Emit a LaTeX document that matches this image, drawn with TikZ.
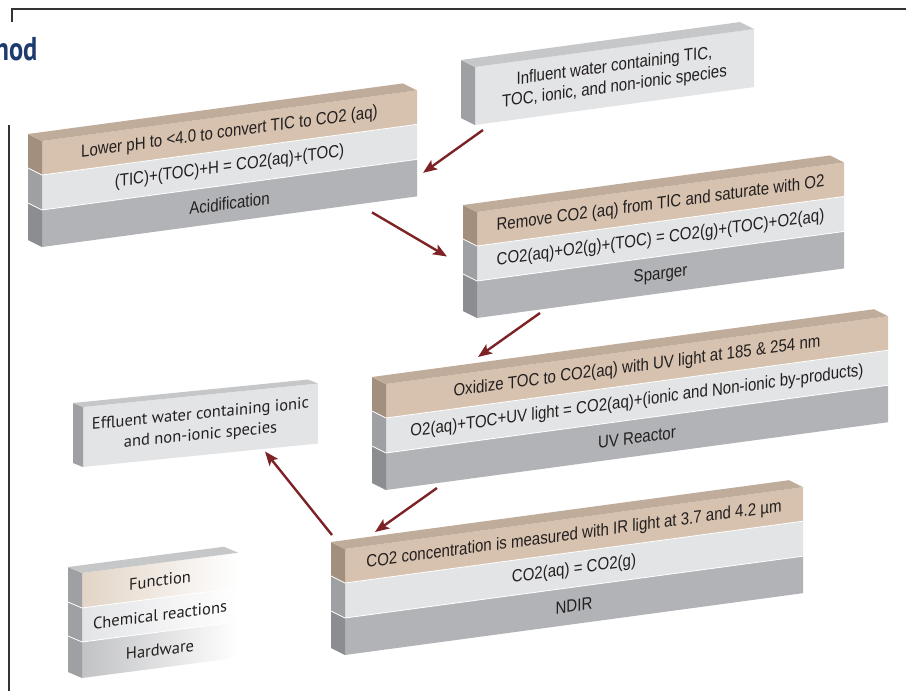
\documentclass[tikz,border=0pt]{standalone}
\usepackage{fontspec}
\setmainfont{Liberation Sans}[FakeStretch=0.86]
\newfontfamily\myriad{PT Sans}
\newfontfamily\titlefont{PT Sans}[FakeStretch=0.8]
\usetikzlibrary{arrows.meta}
\definecolor{tanfront}{RGB}{214,194,174}
\definecolor{tanside}{RGB}{163,143,125}
\definecolor{tantop}{RGB}{192,172,154}
\definecolor{lightfront}{RGB}{227,228,230}
\definecolor{lightside}{RGB}{158,160,163}
\definecolor{lighttop}{RGB}{198,199,201}
\definecolor{greyfront}{RGB}{178,179,182}
\definecolor{greyside}{RGB}{140,141,144}
\definecolor{arrowred}{RGB}{125,35,38}
\definecolor{navy}{RGB}{30,58,110}
\definecolor{inkgrey}{RGB}{35,31,32}
\tikzstyle{layer} = [rectangle, inner sep=0pt, outer sep=0pt, text centered, align=center, text=inkgrey, font=\fontsize{17.5}{20.5}\selectfont]
\tikzstyle{fnlayer} = [layer, minimum height=34pt, fill=tanfront]
\tikzstyle{rxlayer} = [layer, minimum height=35pt, fill=lightfront]
\tikzstyle{hwlayer} = [layer, minimum height=37pt, fill=greyfront]
\tikzstyle{gap} = [draw=white, line width=0.8pt]
\tikzstyle{arrow} = [line width=2.4pt, draw=arrowred, -{Stealth[length=14pt,width=11pt,inset=3pt]}]
\tikzstyle{frame} = [draw=black!80, line width=1.8pt]
\newcommand{\slab}[7]{%
\begin{scope}[shift={(#2,-#3)},yslant=0.135,transform shape]
\node (#1hw) [hwlayer,minimum width=#4pt,anchor=south west] at (0,0) {#7};
\node (#1rx) [rxlayer,minimum width=#4pt,anchor=south west] at (0,37) {#6};
\node (#1fn) [fnlayer,minimum width=#4pt,anchor=south west] at (0,72) {#5};
\end{scope}
\fill[greyside] (#1hw.south west) -- (#1hw.north west) -- ([shift={(-14,7)}]#1hw.north west) -- ([shift={(-14,7)}]#1hw.south west) -- cycle;
\fill[lightside] (#1rx.south west) -- (#1rx.north west) -- ([shift={(-14,7)}]#1rx.north west) -- ([shift={(-14,7)}]#1rx.south west) -- cycle;
\fill[tanside] (#1fn.south west) -- (#1fn.north west) -- ([shift={(-14,7)}]#1fn.north west) -- ([shift={(-14,7)}]#1fn.south west) -- cycle;
\fill[tantop] (#1fn.north west) -- (#1fn.north east) -- ([shift={(-14,7)}]#1fn.north east) -- ([shift={(-14,7)}]#1fn.north west) -- cycle;
\draw[gap] ([shift={(-14,7)}]#1rx.north west) -- (#1rx.north west) -- (#1rx.north east);
\draw[gap] ([shift={(-14,7)}]#1hw.north west) -- (#1hw.north west) -- (#1hw.north east);
}
\begin{document}
\begin{tikzpicture}[x=1pt,y=1pt]
\useasboundingbox (0,0) rectangle (906,-691);
\draw[frame] (12,-22) -- (12,-9) -- (906,-9);
\draw[frame] (9,-125) -- (9,-691);
\node (title) [anchor=base east, font=\titlefont\bfseries\fontsize{33}{36}\selectfont, text=navy] at (41,-60) {hod};

\slab{acid}{42}{247}{375}{Lower pH to <4.0 to convert TIC to CO2 (aq)}{(TIC)+(TOC)+H = CO2(aq)+(TOC)}{Acidification}
\slab{sparg}{477}{318}{367}{Remove CO2 (aq) from TIC and saturate with O2}{CO2(aq)+O2(g)+(TOC) = CO2(g)+(TOC)+O2(aq)}{Sparger}
\slab{uv}{386}{490}{502}{Oxidize TOC to CO2(aq) with UV light at 185 \& 254 nm}{O2(aq)+TOC+UV light = CO2(aq)+(ionic and Non-ionic by-products)}{UV Reactor}
\slab{ndir}{345}{655}{458}{CO2 concentration is measured with IR light at 3.7 and 4.2 µm}{CO2(aq) = CO2(g)}{NDIR}

\begin{scope}[shift={(475,-125)},yslant=0.136,transform shape]
\node (inf) [layer, fill=lightfront, minimum width=279pt, minimum height=58pt, anchor=south west] at (0,0) {Influent water containing TIC,\\TOC, ionic, and non-ionic species};
\end{scope}
\fill[lightside] (inf.south west) -- (inf.north west) -- ([shift={(-14,7)}]inf.north west) -- ([shift={(-14,7)}]inf.south west) -- cycle;
\fill[lighttop] (inf.north west) -- (inf.north east) -- ([shift={(-14,7)}]inf.north east) -- ([shift={(-14,7)}]inf.north west) -- cycle;

\begin{scope}[shift={(83,-467)},yslant=0.1,transform shape]
\node (eff) [layer, fill=lightfront, minimum width=235pt, minimum height=60pt, anchor=south west, font=\myriad\fontsize{16.5}{21}\selectfont] at (0,0) {Effluent water containing ionic\\and non-ionic species};
\end{scope}
\fill[lightside] (eff.south west) -- (eff.north west) -- ([shift={(-10,4)}]eff.north west) -- ([shift={(-10,4)}]eff.south west) -- cycle;
\fill[lighttop] (eff.north west) -- (eff.north east) -- ([shift={(-10,4)}]eff.north east) -- ([shift={(-10,4)}]eff.north west) -- cycle;

\begin{scope}[shift={(82,-678)},yslant=0.13,transform shape,every node/.style={layer, font=\myriad\fontsize{16.5}{19}\selectfont, minimum width=156pt, anchor=south west}]
\node (leghw) [minimum height=36pt, left color=greyfront!80, right color=white] at (0,0) {Hardware};
\node (legrx) [minimum height=34pt, left color=lightfront, right color=white] at (0,36) {Chemical reactions};
\node (legfn) [minimum height=35pt, left color=tanfront!70, right color=white] at (0,70) {Function};
\end{scope}
\fill[lightside] (leghw.south west) -- (legfn.north west) -- ([shift={(-14,6)}]legfn.north west) -- ([shift={(-14,6)}]leghw.south west) -- cycle;
\fill[lighttop] (legfn.north west) -- (legfn.north east) -- ([shift={(-14,6)}]legfn.north east) -- ([shift={(-14,6)}]legfn.north west) -- cycle;
\draw[gap] ([shift={(-14,6)}]legrx.north west) -- (legrx.north west) -- (legrx.north east);
\draw[gap] ([shift={(-14,6)}]leghw.north west) -- (leghw.north west) -- (leghw.north east);

\draw[arrow] ([shift={(8,-5)}]inf.south west) -- ([shift={(6,5)}]acidhw.east);
\draw[arrow] ([shift={(-45,-16)}]acidhw.south east) -- ([shift={(-30,7)}]spargrx.west);
\draw[arrow] ([shift={(63,5)}]sparghw.south west) -- ([shift={(92,27)}]uvfn.north west);
\draw[arrow] ([shift={(51,2)}]uvhw.south west) -- ([shift={(30,17)}]ndirfn.north west);
\draw[arrow] ([shift={(-13,14)}]ndirfn.north west) -- ([shift={(-53,-8)}]eff.south east);
\end{tikzpicture}
\end{document}
